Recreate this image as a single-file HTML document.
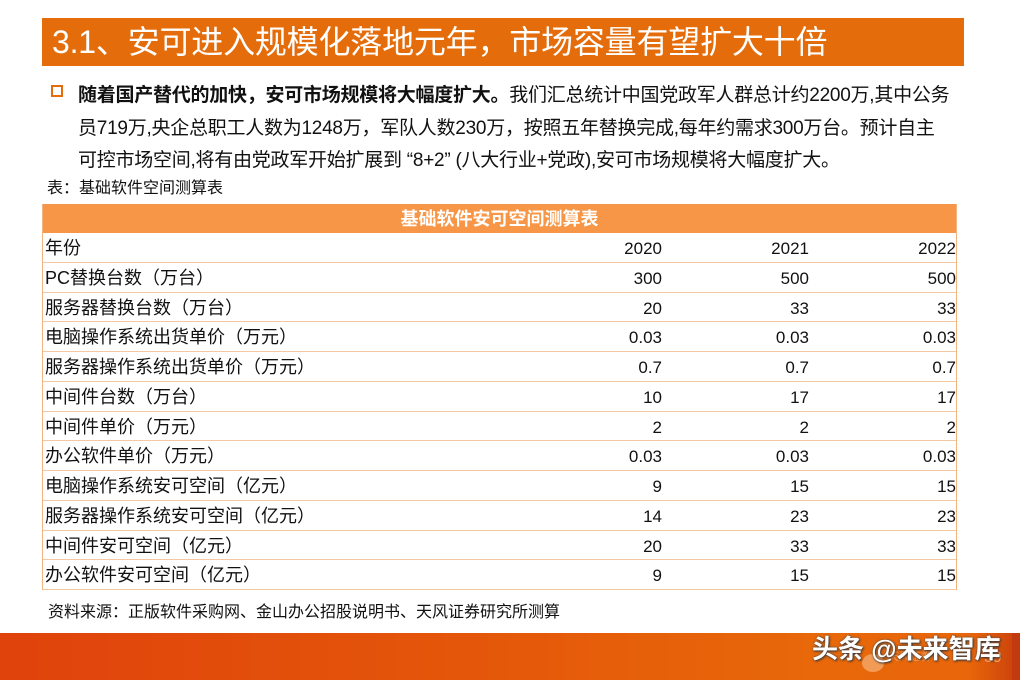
<!DOCTYPE html>
<html>
<head>
<meta charset="utf-8">
<style>
*{margin:0;padding:0;box-sizing:border-box}
html,body{width:1020px;height:680px;overflow:hidden;background:#fff}
body{position:relative;font-family:"Liberation Sans","Noto Sans CJK SC",sans-serif;color:#111}
.title{position:absolute;left:42px;top:18px;width:922px;height:48px;background:#E46C0A;color:#fff;font-size:32px;line-height:48px;padding-left:10px;white-space:nowrap;letter-spacing:-0.2px}
.bullet{position:absolute;left:51px;top:85px;width:12px;height:12px;border:2.5px solid #E46C0A;background:#fff}
.para{position:absolute;left:78px;font-size:19px;white-space:nowrap;color:#111;line-height:24px;letter-spacing:-0.25px}
.cap{position:absolute;left:47px;top:178px;font-size:16px;white-space:nowrap;line-height:22px}
.tbl{position:absolute;left:42px;top:204px;width:915px;border-left:1.5px solid #F2B47E;border-right:1.5px solid #F2B47E}
.thead{height:29px;background:#F79646;color:#fff;font-weight:bold;font-size:18px;text-align:center;line-height:30px}
.row{position:relative;height:29.75px;border-bottom:1.5px solid #F4C9A2;font-size:18px;line-height:31px;color:#111}
.row .l{position:absolute;left:2px;top:0;white-space:nowrap}
.row .v{position:absolute;top:0;text-align:right;width:100px;font-size:17px}
.v1{left:519px}.v2{left:666px}.v3{left:813px}
.src{position:absolute;left:48px;top:602px;font-size:16px;white-space:nowrap;line-height:22px}
.band{position:absolute;left:0;top:633px;width:1020px;height:47px;background:linear-gradient(90deg,#E0430C 0%,#E4560A 45%,#E8680A 80%,#E9660A 95%,#C8400C 100%)}
.wm{position:absolute;left:812px;top:631px;font-size:26px;font-weight:bold;color:#fff;white-space:nowrap;text-shadow:1px 1px 2px #333,0 0 2px #555;line-height:36px}
.pg{position:absolute;left:984px;top:648px;font-size:16px;color:#F6A060;line-height:20px}
.logo{position:absolute;left:862px;top:654px;width:22px;height:18px;border-radius:50%;background:rgba(255,220,180,0.45)}
.logot{position:absolute;left:888px;top:650px;font-size:11px;color:rgba(255,200,150,0.6);line-height:14px}
.rb{position:absolute;left:1012px;top:633px;width:8px;height:47px;background:#C23A10}
</style>
</head>
<body>
<div class="title">3.1、安可进入规模化落地元年，市场容量有望扩大十倍</div>
<div class="bullet"></div>
<div class="para" style="top:84px"><b>随着国产替代的加快，安可市场规模将大幅度扩大。</b>我们汇总统计中国党政军人群总计约2200万,其中公务</div>
<div class="para" style="top:117px">员719万,央企总职工人数为1248万，军队人数230万，按照五年替换完成,每年约需求300万台。预计自主</div>
<div class="para" style="top:149px">可控市场空间,将有由党政军开始扩展到 “8+2” (八大行业+党政),安可市场规模将大幅度扩大。</div>
<div class="cap">表：基础软件空间测算表</div>
<div class="tbl">
<div class="thead">基础软件安可空间测算表</div>
<div class="row"><span class="l">年份</span><span class="v v1">2020</span><span class="v v2">2021</span><span class="v v3">2022</span></div>
<div class="row"><span class="l">PC替换台数（万台）</span><span class="v v1">300</span><span class="v v2">500</span><span class="v v3">500</span></div>
<div class="row"><span class="l">服务器替换台数（万台）</span><span class="v v1">20</span><span class="v v2">33</span><span class="v v3">33</span></div>
<div class="row"><span class="l">电脑操作系统出货单价（万元）</span><span class="v v1">0.03</span><span class="v v2">0.03</span><span class="v v3">0.03</span></div>
<div class="row"><span class="l">服务器操作系统出货单价（万元）</span><span class="v v1">0.7</span><span class="v v2">0.7</span><span class="v v3">0.7</span></div>
<div class="row"><span class="l">中间件台数（万台）</span><span class="v v1">10</span><span class="v v2">17</span><span class="v v3">17</span></div>
<div class="row"><span class="l">中间件单价（万元）</span><span class="v v1">2</span><span class="v v2">2</span><span class="v v3">2</span></div>
<div class="row"><span class="l">办公软件单价（万元）</span><span class="v v1">0.03</span><span class="v v2">0.03</span><span class="v v3">0.03</span></div>
<div class="row"><span class="l">电脑操作系统安可空间（亿元）</span><span class="v v1">9</span><span class="v v2">15</span><span class="v v3">15</span></div>
<div class="row"><span class="l">服务器操作系统安可空间（亿元）</span><span class="v v1">14</span><span class="v v2">23</span><span class="v v3">23</span></div>
<div class="row"><span class="l">中间件安可空间（亿元）</span><span class="v v1">20</span><span class="v v2">33</span><span class="v v3">33</span></div>
<div class="row"><span class="l">办公软件安可空间（亿元）</span><span class="v v1">9</span><span class="v v2">15</span><span class="v v3">15</span></div>
</div>
<div class="src">资料来源：正版软件采购网、金山办公招股说明书、天风证券研究所测算</div>
<div class="band"></div>
<div class="rb"></div>
<div class="logo"></div>
<div class="logot">天风证券</div>
<div class="pg">39</div>
<div class="wm">头条 @未来智库</div>
</body>
</html>
